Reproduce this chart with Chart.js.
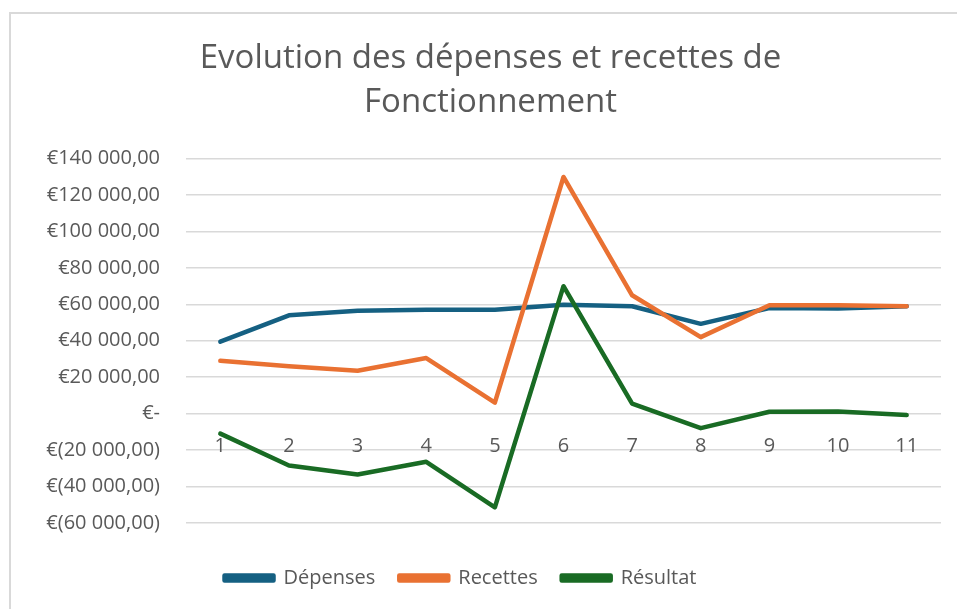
<!DOCTYPE html>
<html>
<head>
<meta charset="utf-8">
<script src="https://cdn.jsdelivr.net/npm/chart.js@4/dist/chart.umd.min.js"></script>
<style>
    html, body { margin: 0; padding: 0; background: #fff; }
    #wrap { position: absolute; left: 0; top: 0; width: 957px; height: 609px; }
    #frame { position: absolute; left: 9px; top: 12px; right: 0; bottom: 0;
             border-top: 2px solid #d9d9d9; border-left: 2px solid #d9d9d9; }
    canvas { position: absolute; left: 0; top: 0; }
</style>
</head>
<body>
<div id="wrap">
    <div id="frame"></div>
    <canvas id="chart" width="957" height="609"></canvas>
</div>
<script>
// données
const periodes = ['1', '2', '3', '4', '5', '6', '7', '8', '9', '10', '11'];
const depenses = [39500, 54000, 56500, 57000, 57000, 59800, 59000, 49300, 58000, 57800, 59000];
const recettes = [29000, 26000, 23500, 30500, 6000, 130000, 65000, 42000, 59500, 59500, 59000];
const resultat = [-11000, -28500, -33500, -26500, -51500, 70000, 5500, -8000, 1000, 1200, -800];

const gris = '#595959';
const police = "'Open Sans', 'Liberation Sans', sans-serif";

function formatEuro(v) {
    if (v === 0) return '€-';
    const s = Math.abs(v).toString().replace(/\B(?=(\d{3})+(?!\d))/g, ' ') + ',00';
    return v < 0 ? '€(' + s + ')' : '€' + s;
}

function serie(label, data, color, order) {
    return {
        label: label,
        data: data,
        borderColor: color,
        backgroundColor: color,
        borderWidth: 4.5,
        pointRadius: 0,
        tension: 0,
        borderCapStyle: 'round',
        borderJoinStyle: 'round',
        order: order
    };
}

// la légende d'Excel est un peu décalée vers la gauche
const decaleLegende = {
    id: 'decaleLegende',
    afterLayout(chart) {
        if (chart.legend) {
            chart.legend.left -= 30;
            chart.legend.right -= 30;
        }
    }
};

(function() {
    const ctx = document.getElementById('chart').getContext('2d');
    new Chart(ctx, {
        type: 'line',
        data: {
            labels: periodes,
            datasets: [
                serie('Dépenses', depenses, '#156082', 3),
                serie('Recettes', recettes, '#E97132', 2),
                serie('Résultat', resultat, '#196B24', 1)
            ]
        },
        plugins: [decaleLegende],
        options: {
            responsive: false,
            animation: false,
            layout: { padding: { left: 40, right: 16, top: 37, bottom: 11 } },
            plugins: {
                tooltip: { enabled: false },
                title: {
                    display: true,
                    text: ['Evolution des dépenses et recettes de', 'Fonctionnement'],
                    color: gris,
                    font: { family: police, size: 33, weight: 'normal', lineHeight: 1.33 },
                    padding: { top: 0, bottom: 34 }
                },
                legend: {
                    position: 'bottom',
                    title: {
                        display: true,
                        text: ' ',
                        font: { size: 1 },
                        padding: { top: 0, bottom: 20 }
                    },
                    labels: {
                        color: gris,
                        font: { family: police, size: 20 },
                        boxWidth: 49,
                        boxHeight: 5,
                        padding: 24,
                        sort: (a, b) => a.datasetIndex - b.datasetIndex
                    }
                }
            },
            scales: {
                x: {
                    type: 'category',
                    position: { y: 0 },
                    offset: true,
                    grid: { display: false },
                    border: { display: false },
                    ticks: { color: gris, font: { family: police, size: 20 }, padding: 13 }
                },
                y: {
                    min: -60000,
                    max: 140000,
                    afterFit: s => { s.width = 146; },
                    grid: { color: '#d9d9d9', lineWidth: 1.5, drawTicks: false },
                    border: { display: false },
                    ticks: {
                        stepSize: 20000,
                        color: gris,
                        font: { family: police, size: 20 },
                        padding: 26,
                        callback: v => formatEuro(v)
                    }
                }
            }
        }
    });
})();
</script>
</body>
</html>
